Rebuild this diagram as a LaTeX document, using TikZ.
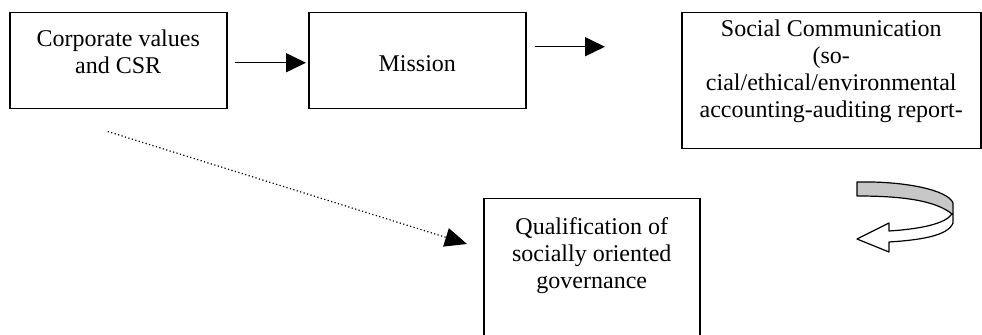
\documentclass[tikz,border=0pt]{standalone}
\usepackage{fontspec}
\setmainfont{Liberation Serif}
\usetikzlibrary{arrows.meta,calc}
\begin{document}
\begin{tikzpicture}[x=0.5pt,y=-0.5pt,
  box/.style={draw, line width=0.75pt, rectangle, inner sep=0pt, anchor=north west},
  boxtext/.style={anchor=north, inner sep=0pt, align=center,
    font=\fontsize{12}{13.5}\selectfont},
  flow/.style={line width=0.75pt, -{Triangle[length=10pt,width=9.5pt]}},
  hint/.style={line width=0.6pt, dash pattern=on 0.6pt off 1.2pt,
    -{Triangle[length=11pt,width=9.5pt]}},
  turn/.style={line width=0.6pt, line join=round},
]
\useasboundingbox (0,0) rectangle (982,335);
\clip (0,0) rectangle (982,335);

% boxes
\node[box, minimum width=108.5pt, minimum height=48pt] (cv)  at (9,12)   {};
\node[box, minimum width=108.5pt, minimum height=48pt] (mis) at (308,12) {};
\node[box, minimum width=149.5pt, minimum height=68pt] (sc)  at (681,12) {};
\node[box, minimum width=108pt,   minimum height=90pt] (qu)  at (483,198) {};

% box texts
\node[boxtext] (cvt)  at ($(cv.north)+(0,17.3)$)  {Corporate values\\and CSR};
\node[boxtext] (mist) at ($(mis.north)+(0,43.6)$) {Mission};
\node[boxtext] (sct)  at ($(sc.north)+(0,7.6)$)
  {Social Communication\\(so-\\cial/ethical/environmental\\accounting-auditing report-};
\node[boxtext] (qut)  at ($(qu.north)+(0,19.6)$)
  {Qualification of\\socially oriented\\governance};

% connectors
\draw[flow] ([xshift=3.5pt,yshift=-1pt]cv.east) -- ([xshift=-1pt,yshift=-1pt]mis.west);
\coordinate (a2) at ([xshift=4pt,yshift=7pt]mis.east);
\draw[flow] (a2) -- ([xshift=-38pt]sc.west |- a2);
\draw[hint] ([xshift=-5.25pt,yshift=-11pt]cv.south) -- ([xshift=-8pt,yshift=-23pt]qu.north west);

% turning ribbon arrow
\fill[black!22] (857,182) .. controls (905,181) and (948,190) .. (953,203)
  -- (952,214) .. controls (935,200) and (900,196) .. (857,196) -- cycle;
\draw[turn] (857,182) .. controls (905,181) and (948,190) .. (953,203)
  -- (953,223) .. controls (948,236) and (920,240) .. (889,242)
  -- (889,252) -- (857,239) -- (889,223) -- (889,231)
  .. controls (920,229) and (945,224) .. (952,214)
  .. controls (935,200) and (900,196) .. (857,196) -- cycle;
\end{tikzpicture}
\end{document}
